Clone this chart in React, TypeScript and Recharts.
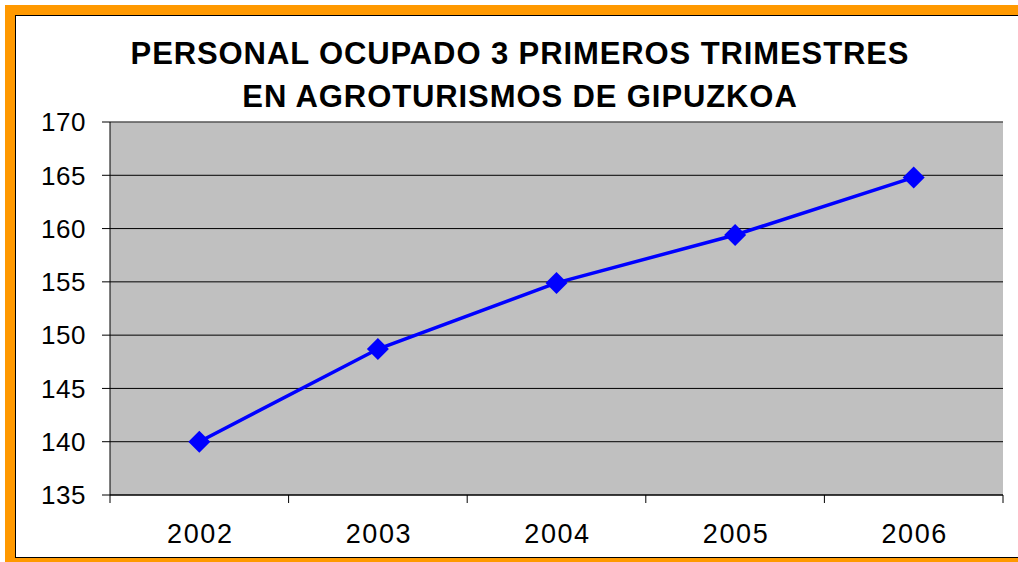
import React from 'react';
import { LineChart, Line, XAxis, YAxis, CartesianGrid, ReferenceLine } from 'recharts';

const categories = ['2002', '2003', '2004', '2005', '2006'];
const personal = [140, 148.7, 154.9, 159.4, 164.8];
const yTicks = [135, 140, 145, 150, 155, 160, 165, 170];
const titleLines = ['PERSONAL OCUPADO 3 PRIMEROS TRIMESTRES', 'EN AGROTURISMOS DE GIPUZKOA'];

const data = categories.map((c, i) => ({ year: c, value: personal[i] }));

const FONT = '"Liberation Sans", Arial, sans-serif';

const Diamond = (props: any) => {
  const { cx, cy } = props;
  if (cx == null || cy == null) return null;
  const r = 11;
  return (
    <polygon
      points={`${cx},${cy - r} ${cx + r},${cy} ${cx},${cy + r} ${cx - r},${cy}`}
      fill="#0000FF"
      stroke="none"
    />
  );
};

const XTick = (props: any) => {
  const { x, y, payload, index } = props;
  const half = 893 / 5 / 2;
  const i = payload?.index ?? index;
  return (
    <g>
      <line x1={x - half} x2={x - half} y1={y} y2={y + 8} stroke="#000" strokeWidth={1} />
      {i === categories.length - 1 && (
        <line x1={x + half} x2={x + half} y1={y} y2={y + 8} stroke="#000" strokeWidth={1} />
      )}
      <text
        x={x + 1}
        y={y + 48}
        textAnchor="middle"
        fill="#000"
        fontSize={27}
        fontFamily={FONT}
        style={{ letterSpacing: '1.6px' }}
      >
        {payload.value}
      </text>
    </g>
  );
};

export default function App() {
  return (
    <div style={{ position: 'absolute', left: 0, top: 0, width: 1018, height: 562, background: '#fff', overflow: 'hidden' }}>
      <div style={{ position: 'absolute', left: 5, top: 5, width: 1040, height: 563, border: '10px solid #FF9900', boxSizing: 'border-box' }} />
      <div style={{ position: 'absolute', left: 15, top: 15, width: 1020, height: 543, border: '1px solid #000', boxSizing: 'border-box' }} />
      <div
        style={{
          position: 'absolute',
          left: 20,
          top: 32,
          width: 1000,
          textAlign: 'center',
          fontFamily: FONT,
          fontWeight: 'bold',
          fontSize: 31,
          letterSpacing: '0.9px',
          lineHeight: '43px',
          color: '#000',
        }}
      >
        {titleLines.map((t) => (
          <div key={t}>{t}</div>
        ))}
      </div>
      <div style={{ position: 'absolute', left: 0, top: 0 }}>
        <LineChart width={1018} height={562} data={data} margin={{ top: 122, right: 15, bottom: 0, left: 0 }}>
          <CartesianGrid vertical={false} stroke="#000" strokeWidth={1} fill="#C0C0C0" fillOpacity={1} />
          <XAxis
            dataKey="year"
            scale="band"
            height={67}
            tickLine={false}
            tickSize={0}
            tickMargin={0}
            axisLine={{ stroke: '#000', strokeWidth: 1 }}
            tick={<XTick />}
            interval={0}
          />
          <YAxis
            width={110}
            domain={[135, 170]}
            ticks={yTicks}
            interval={0}
            tickSize={8}
            tickMargin={16}
            axisLine={{ stroke: '#000', strokeWidth: 1 }}
            tickLine={{ stroke: '#000', strokeWidth: 1 }}
            tick={{ fill: '#000', fontSize: 26, fontFamily: FONT, style: { letterSpacing: '0.5px' } }}
          />
          <YAxis
            yAxisId="right"
            orientation="right"
            width={0}
            domain={[135, 170]}
            tick={false}
            tickLine={false}
            axisLine={{ stroke: '#808080', strokeWidth: 1 }}
          />
          <ReferenceLine y={170} stroke="#808080" strokeWidth={1} />
          <Line
            type="linear"
            dataKey="value"
            stroke="#0000FF"
            strokeWidth={3.5}
            dot={<Diamond />}
            activeDot={false}
            isAnimationActive={false}
          />
        </LineChart>
      </div>
    </div>
  );
}
